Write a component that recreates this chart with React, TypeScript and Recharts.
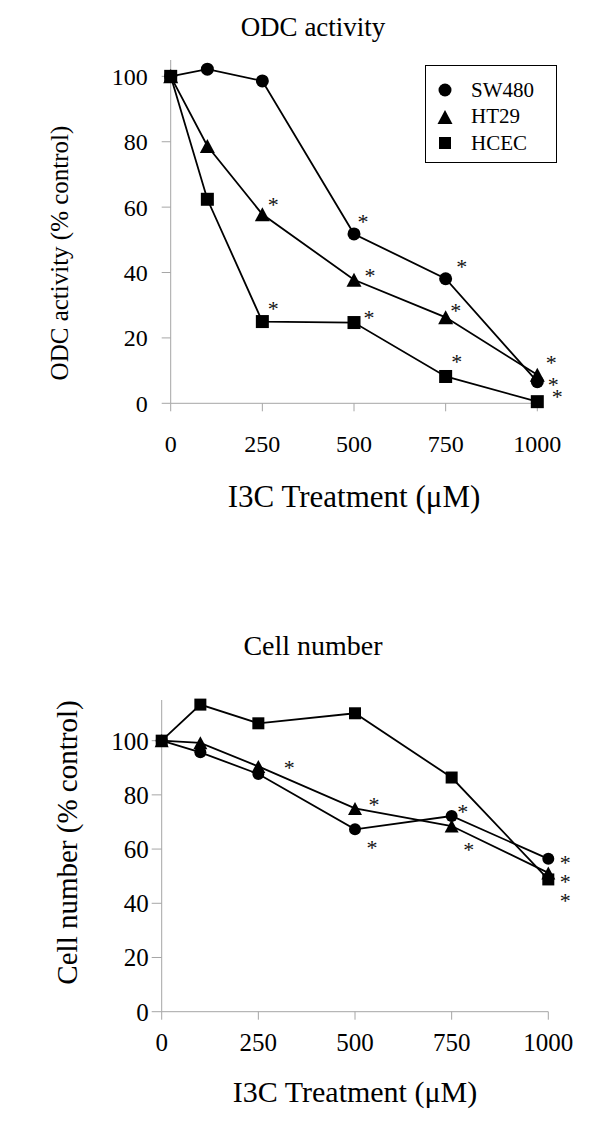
import { LineChart, Line, XAxis, YAxis, Legend } from 'recharts';

const doses = [0, 100, 250, 500, 750, 1000];
const xTicks = [0, 250, 500, 750, 1000];
const yTicks = [0, 20, 40, 60, 80, 100];
const seriesNames = ['SW480', 'HT29', 'HCEC'];

// ODC activity (% control)
const odcSW480 = [100, 102.2, 98.6, 51.8, 38.1, 6.6];
const odcHT29 = [100, 78.7, 57.8, 37.8, 26.3, 8.7];
const odcHCEC = [100, 62.4, 25.0, 24.7, 8.2, 0.5];
const odcSigSW480 = [0, 0, 0, 1, 1, 1];
const odcSigHT29 = [0, 0, 1, 1, 1, 1];
const odcSigHCEC = [0, 0, 1, 1, 1, 1];

// Cell number (% control)
const cellSW480 = [100, 95.7, 87.7, 67.3, 72.2, 56.4];
const cellHT29 = [100, 99.2, 90.5, 75.0, 68.5, 51.2];
const cellHCEC = [100, 113.3, 106.4, 110.1, 86.4, 48.8];
const cellSigSW480 = [0, 0, 0, 1, 1, 1];
const cellSigHT29 = [0, 0, 1, 1, 1, 1];
const cellSigHCEC = [0, 0, 0, 0, 0, 1];

// where each asterisk sits relative to its point (px)
const odcStarOffset: Record<string, number[][]> = {
  SW480: [[0, 0], [0, 0], [0, 0], [9, -15], [16, -15], [16, 0]],
  HT29: [[0, 0], [0, 0], [11, -13], [16, -7], [10, -10], [14, -15]],
  HCEC: [[0, 0], [0, 0], [11, -16], [15, -8], [11, -18], [20, -8]],
};
const cellStarOffset: Record<string, number[][]> = {
  SW480: [[0, 0], [0, 0], [0, 0], [17, 15], [11, -8], [17, 1]],
  HT29: [[0, 0], [0, 0], [31, -2], [19, -7], [17, 20], [17, 6]],
  HCEC: [[0, 0], [0, 0], [0, 0], [0, 0], [0, 0], [17, 18]],
};

const odcData = doses.map((d, i) => ({ dose: d, SW480: odcSW480[i], HT29: odcHT29[i], HCEC: odcHCEC[i] }));
const cellData = doses.map((d, i) => ({ dose: d, SW480: cellSW480[i], HT29: cellHT29[i], HCEC: cellHCEC[i] }));

const FONT = '"Liberation Serif", "Times New Roman", serif';
const AXIS = '#a6a6a6';
const shapeOf: Record<string, string> = { SW480: 'circle', HT29: 'triangle', HCEC: 'square' };

const Marker = ({ shape, cx, cy, size }: { shape: string; cx: number; cy: number; size: number }) => {
  if (shape === 'circle') return <circle cx={cx} cy={cy} r={size / 2} fill="#000" />;
  if (shape === 'square') return <rect x={cx - size / 2} y={cy - size / 2} width={size} height={size} fill="#000" />;
  const w = size + 2;
  const h = size + 1;
  return <polygon points={`${cx},${cy - h / 2} ${cx + w / 2},${cy + h / 2} ${cx - w / 2},${cy + h / 2}`} fill="#000" />;
};

const makeDot = (name: string, sig: number[], offsets: number[][], size: number) => (props: any) => {
  const { cx, cy, index } = props;
  const off = offsets[index];
  return (
    <g key={`${name}-${index}`}>
      <Marker shape={shapeOf[name]} cx={cx} cy={cy} size={size} />
      {sig[index] ? (
        <text x={cx + off[0]} y={cy + off[1] + 10.5} textAnchor="middle" fontSize={22} fontFamily={FONT} fill="#111">
          *
        </text>
      ) : null}
    </g>
  );
};

const LegendBox = () => (
  <div
    style={{
      width: 132,
      height: 98,
      border: '1.5px solid #000',
      boxSizing: 'border-box',
      background: '#fff',
      paddingTop: 11,
      fontFamily: FONT,
      fontSize: 21,
    }}
  >
    {seriesNames.map((n) => (
      <div key={n} style={{ display: 'flex', alignItems: 'center', height: 26.5 }}>
        <svg width={40} height={20} style={{ flex: 'none' }}>
          <Marker shape={shapeOf[n]} cx={19} cy={10} size={n === 'HCEC' ? 12 : 13} />
        </svg>
        <span style={{ marginLeft: 5, lineHeight: 1 }}>{n}</span>
      </div>
    ))}
  </div>
);

const App = () => {
  return (
    <div style={{ position: 'absolute', left: 0, top: 0, width: 600, height: 1145, background: '#fff' }}>
      <div style={{ position: 'absolute', left: 0, top: 0 }}>
        <LineChart width={600} height={530} data={odcData} margin={{ top: 60, right: 62.7, left: 110.7, bottom: 96.7 }}>
          <XAxis
            dataKey="dose"
            type="number"
            domain={[0, 1000]}
            ticks={xTicks}
            height={30}
            stroke={AXIS}
            tickSize={8}
            tickMargin={24}
            tick={{ fill: '#000', fontSize: 24, fontFamily: FONT }}
          />
          <YAxis
            type="number"
            domain={[0, 105]}
            ticks={yTicks}
            width={60}
            stroke={AXIS}
            tickSize={9}
            tickMargin={14}
            tick={{ fill: '#000', fontSize: 24, fontFamily: FONT }}
          />
          <Legend
            layout="vertical"
            align="center"
            verticalAlign="middle"
            content={() => <LegendBox />}
            wrapperStyle={{ left: 425, top: 65, width: 132, height: 98 }}
          />
          {seriesNames.map((n) => (
            <Line
              key={n}
              dataKey={n}
              stroke="#000"
              strokeWidth={1.8}
              isAnimationActive={false}
              dot={makeDot(n, n === 'SW480' ? odcSigSW480 : n === 'HT29' ? odcSigHT29 : odcSigHCEC, odcStarOffset[n], 13)}
              activeDot={false}
            />
          ))}
          <text x={313} y={36} textAnchor="middle" fontSize={27} fontFamily={FONT} fill="#000">
            ODC activity
          </text>
          <text x={354} y={507} textAnchor="middle" fontSize={31} fontFamily={FONT} fill="#000">
            I3C Treatment (μM)
          </text>
          <text
            x={59}
            y={253}
            transform="rotate(-90 59 253)"
            textAnchor="middle"
            dominantBaseline="central"
            fontSize={25}
            fontFamily={FONT}
            fill="#000"
          >
            ODC activity (% control)
          </text>
        </LineChart>
      </div>

      <div style={{ position: 'absolute', left: 0, top: 560 }}>
        <LineChart width={600} height={585} data={cellData} margin={{ top: 140, right: 51.7, left: 101.7, bottom: 103.3 }}>
          <XAxis
            dataKey="dose"
            type="number"
            domain={[0, 1000]}
            ticks={xTicks}
            height={30}
            stroke={AXIS}
            tickSize={8}
            tickMargin={14}
            tick={{ fill: '#000', fontSize: 25, fontFamily: FONT }}
          />
          <YAxis
            type="number"
            domain={[0, 115]}
            ticks={yTicks}
            width={60}
            stroke={AXIS}
            tickSize={10}
            tickMargin={3}
            tick={{ fill: '#000', fontSize: 25, fontFamily: FONT }}
          />
          {seriesNames.map((n) => (
            <Line
              key={n}
              dataKey={n}
              stroke="#000"
              strokeWidth={1.8}
              isAnimationActive={false}
              dot={makeDot(n, n === 'SW480' ? cellSigSW480 : n === 'HT29' ? cellSigHT29 : cellSigHCEC, cellStarOffset[n], 12)}
              activeDot={false}
            />
          ))}
          <text x={313} y={95} textAnchor="middle" fontSize={28} fontFamily={FONT} fill="#000">
            Cell number
          </text>
          <text x={355} y={542} textAnchor="middle" fontSize={30} fontFamily={FONT} fill="#000">
            I3C Treatment (μM)
          </text>
          <text
            x={66.7}
            y={282.5}
            transform="rotate(-90 66.7 282.5)"
            textAnchor="middle"
            dominantBaseline="central"
            fontSize={29}
            fontFamily={FONT}
            fill="#000"
          >
            Cell number (% control)
          </text>
        </LineChart>
      </div>
    </div>
  );
};

export default App;
